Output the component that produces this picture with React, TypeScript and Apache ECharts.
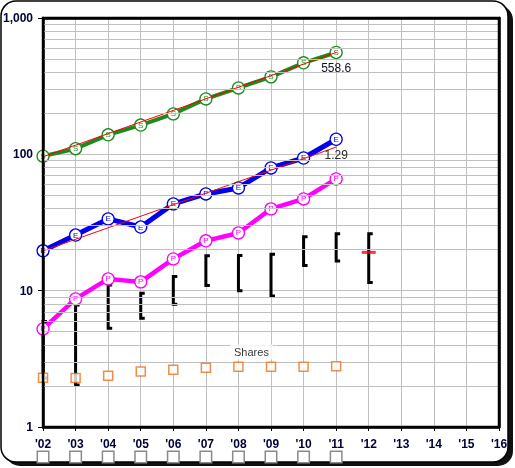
import React, { useEffect, useRef } from "react";
import * as echarts from "echarts";

const years = [2002, 2003, 2004, 2005, 2006, 2007, 2008, 2009, 2010, 2011];
const sValues = [97, 110, 139, 164, 198, 255, 307, 370, 469, 558.6];
const eValues = [19.6, 25.6, 33.6, 29.3, 43.3, 51.2, 56.7, 79.5, 94, 129];
const pValues = [5.24, 8.7, 12.2, 11.6, 17.1, 23.2, 26.5, 39.8, 47.1, 66];
const rangeYears = [2002, 2003, 2004, 2005, 2006, 2007, 2008, 2009, 2010, 2011, 2012];
const rangeHigh = [5.93, 7.85, 11.0, 9.57, 12.7, 18.0, 18.1, 18.5, 24.9, 26.1, 26.1];
const rangeLow = [2.29, 2.03, 5.3, 6.27, 7.95, 10.9, 10.0, 9.15, 15.3, 16.5, 11.5];
const currentYear = 2012;
const currentPrice = 19.1;
const shares = [2.3, 2.29, 2.38, 2.55, 2.63, 2.72, 2.77, 2.77, 2.77, 2.79];
const sTrend = [96, 558.6];
const eTrend = [19.6, 113];
const sLastLabel = "558.6";
const eLastLabel = "1.29";
const sharesLabel = "Shares";
const checkboxLastYear = 2011;
const yMinorMultipliers = [2, 3, 4, 5, 6, 7, 8, 9];
const yDecades = [1, 10, 100];

const LABEL_FONT = '"Liberation Sans Narrow", "Liberation Sans", Arial, sans-serif';
const LABEL_COLOR = "#00003a";

function lineSeries(name: string, values: number[], color: string, width: number, letter: string) {
  return {
    name,
    type: "line",
    z: 3,
    data: years.map((y, i) => [y, values[i]]),
    lineStyle: { color, width },
    symbol: "circle",
    symbolSize: 12,
    itemStyle: { color: "#ffffff", borderColor: color, borderWidth: 1.3 },
    label: {
      show: true,
      position: "inside",
      formatter: letter,
      color,
      fontSize: 8,
      fontFamily: "Liberation Sans, Arial, sans-serif",
    },
  };
}

function trendSeries(values: number[], text: string, color: string, distance: number) {
  const first = years[0];
  const last = years[years.length - 1];
  return {
    type: "line",
    z: 4,
    symbol: "circle",
    symbolSize: 1,
    itemStyle: { color: "#ff0000" },
    lineStyle: { color: "#ff0000", width: 1 },
    data: [
      { value: [first, values[0]], label: { show: false } },
      {
        value: [last, values[1]],
        label: { show: true, position: "bottom", distance, formatter: text, color, fontFamily: LABEL_FONT, fontSize: 12 },
      },
    ],
  };
}

export default function App() {
  const ref = useRef<HTMLDivElement>(null);
  useEffect(() => {
    if (!ref.current) return;
    const chart = echarts.init(ref.current, undefined, { renderer: "svg" });
    const minorLines: any[] = [];
    yDecades.forEach((d) => yMinorMultipliers.forEach((m) => minorLines.push({ yAxis: d * m })));
    const first = years[0];
    const borderAxisLine = { show: true, onZero: false, lineStyle: { color: "#000", width: 2.5 } };
    const option: any = {
      animation: false,
      graphic: {
        elements: [
          { type: "rect", z: -20, shape: { x: 5, y: 5, width: 508, height: 461, r: 15 }, style: { fill: "#111" } },
          { type: "rect", z: -19, shape: { x: 1, y: 1, width: 507, height: 461, r: 15 }, style: { fill: "#fff", stroke: "#000", lineWidth: 1.5 } },
        ],
      },
      grid: { left: 40, right: 16, top: 18, bottom: 41, show: true, z: 10, borderColor: "#000", borderWidth: 2.5, backgroundColor: "rgba(0,0,0,0)" },
      xAxis: [
        {
          type: "value",
          min: 2002,
          max: 2016,
          interval: 1,
          z: 1,
          axisLine: borderAxisLine,
          axisTick: { show: true, length: 4, lineStyle: { color: "#000" } },
          splitLine: { show: true, lineStyle: { color: "#c0c0c0", width: 1 } },
          axisLabel: {
            showMinLabel: true,
            showMaxLabel: true,
            margin: 9,
            formatter: (v: number) => {
              const t = "'" + String(v).slice(2);
              return v <= checkboxLastYear ? `{y|${t}}\n{b|}` : `{y|${t}}\n{e|}`;
            },
            rich: {
              y: { fontFamily: LABEL_FONT, fontWeight: "bold", fontSize: 12, color: LABEL_COLOR, lineHeight: 16 },
              b: { width: 10, height: 10, borderColor: "#8a8a8a", borderWidth: 1.5, backgroundColor: "#fff" },
              e: { width: 10, height: 10 },
            },
          },
        },
        {
          type: "value",
          position: "top",
          min: 2002,
          max: 2016,
          interval: 1,
          z: 6,
          axisLine: borderAxisLine,
          axisTick: { show: false },
          axisLabel: { show: false },
          splitLine: { show: false },
        },
      ],
      yAxis: [
        {
          type: "log",
          logBase: 10,
          min: 1,
          max: 1000,
          z: 1,
          axisLine: borderAxisLine,
          axisTick: { show: true, length: 5, lineStyle: { color: "#000" } },
          splitLine: { show: true, lineStyle: { color: "#c0c0c0", width: 1 } },
          axisLabel: {
            margin: 10,
            fontFamily: LABEL_FONT,
            fontWeight: "bold",
            fontSize: 12,
            color: LABEL_COLOR,
            formatter: (v: number) => Math.round(v).toLocaleString("en-US"),
          },
        },
        {
          type: "log",
          logBase: 10,
          min: 1,
          max: 1000,
          position: "right",
          z: 6,
          axisLine: borderAxisLine,
          axisTick: { show: false },
          axisLabel: { show: false },
          splitLine: { show: false },
        },
      ],
      series: [
        {
          type: "line",
          z: 1,
          data: [[first, 1]],
          symbol: "none",
          lineStyle: { opacity: 0 },
          silent: true,
          markLine: {
            silent: true,
            symbol: ["none", "none"],
            label: { show: false },
            lineStyle: { color: "#c0c0c0", type: "solid", width: 1 },
            data: minorLines,
          },
        },
        {
          type: "line",
          xAxisIndex: 1,
          yAxisIndex: 1,
          z: 1,
          data: [[first, 1]],
          symbol: "none",
          lineStyle: { opacity: 0 },
          silent: true,
        },
        {
          type: "custom",
          z: 2,
          data: rangeYears.map((y, i) => [y, rangeHigh[i], rangeLow[i]]),
          renderItem: (params: any, api: any) => {
            const x = api.value(0);
            const hi = api.coord([x, api.value(1)]);
            const lo = api.coord([x, api.value(2)]);
            return {
              type: "polyline",
              shape: { points: [[hi[0] + 4, hi[1]], [hi[0], hi[1]], [lo[0], lo[1]], [lo[0] + 4, lo[1]]] },
              style: { stroke: "#000", lineWidth: 3, fill: "none" },
            };
          },
        },
        {
          type: "scatter",
          z: 2,
          data: [[currentYear, currentPrice]],
          symbol: "rect",
          symbolSize: [14, 3],
          itemStyle: { color: "#ff0000" },
        },
        lineSeries("P", pValues, "#ff00ff", 4.5, "P"),
        lineSeries("E", eValues, "#0000ee", 5, "E"),
        lineSeries("S", sValues, "#1e8a1e", 4, "S"),
        trendSeries(sTrend, sLastLabel, "#101030", 9),
        trendSeries(eTrend, eLastLabel, "#2a2a2a", 1),
        {
          type: "scatter",
          z: 5,
          symbol: "rect",
          symbolSize: 9,
          itemStyle: { color: "#ffffff", borderColor: "#f07018", borderWidth: 1.5 },
          data: years.map((y, i) =>
            y === 2008
              ? {
                  value: [y, shares[i]],
                  label: {
                    show: true,
                    position: "top",
                    offset: [13, 3],
                    formatter: sharesLabel,
                    backgroundColor: "#fff",
                    padding: [2, 4],
                    color: "#000",
                    fontFamily: "Liberation Sans, Arial, sans-serif",
                    fontSize: 11,
                  },
                }
              : [y, shares[i]]
          ),
        },
      ],
    };
    chart.setOption(option);
    return () => chart.dispose();
  }, []);
  return <div ref={ref} style={{ position: "fixed", left: 0, top: 0, width: 515, height: 468 }} />;
}
